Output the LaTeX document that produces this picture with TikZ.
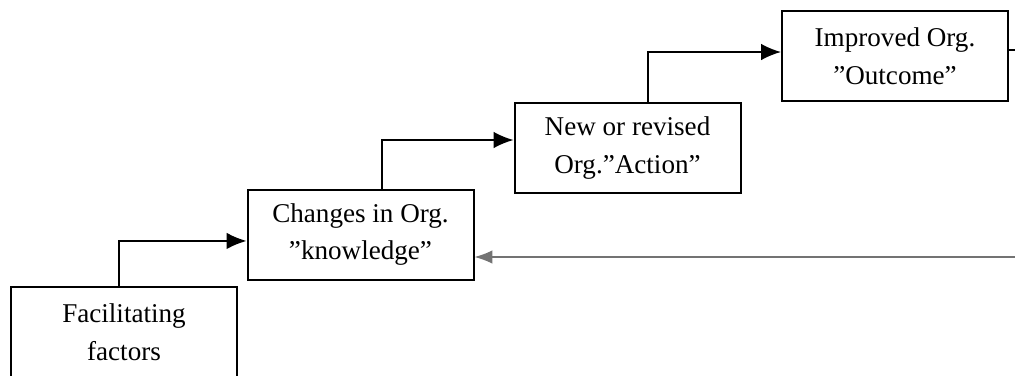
\documentclass[tikz,border=0pt]{standalone}
\usepackage{fontspec}
\setmainfont{Liberation Serif}
\usetikzlibrary{arrows.meta,positioning}

\begin{document}
\begin{tikzpicture}[x=0.45pt, y=-0.45pt]
\tikzset{
   stage/.style={rectangle, draw=black, line width=0.9pt, minimum width=101.7pt, minimum height=40.5pt, inner sep=0pt, align=center, font=\fontsize{12.2}{17}\selectfont},
   flow/.style={->, >={Latex[length=9pt,width=7.5pt]}, line width=0.8pt},
   back/.style={->, >={Latex[length=8pt,width=6pt]}, line width=0.6pt, black!55},
}
\useasboundingbox (0,0) rectangle (1015,375);

\node[stage] (fac) at (124,332) {Facilitating\\factors};
\node[stage] (chg) at (360.5,234.5) {Changes in Org.\\''knowledge''};
\node[stage] (new) at (627.5,148) {New or revised\\Org.''Action''};
\node[stage] (imp) at (895,56) {Improved Org.\\''Outcome''};

\coordinate (rtop) at (1025,50);
\coordinate (rbot) at (1025,257);

\draw[flow] ([xshift=-2.25pt]fac.north) |- ([yshift=-2.9pt]chg.west);
\draw[flow] ([xshift=9.7pt]chg.north) |- ([yshift=3.6pt]new.west);
\draw[flow] ([xshift=9.2pt]new.north) |- ([yshift=1.8pt]imp.west);

% feedback loop, its right side runs off the page
\draw[line width=0.6pt] (imp.east |- rtop) -- (rtop) -- (rbot);
\draw[back] (rbot) -- (chg.east |- rbot);

\end{tikzpicture}
\end{document}
